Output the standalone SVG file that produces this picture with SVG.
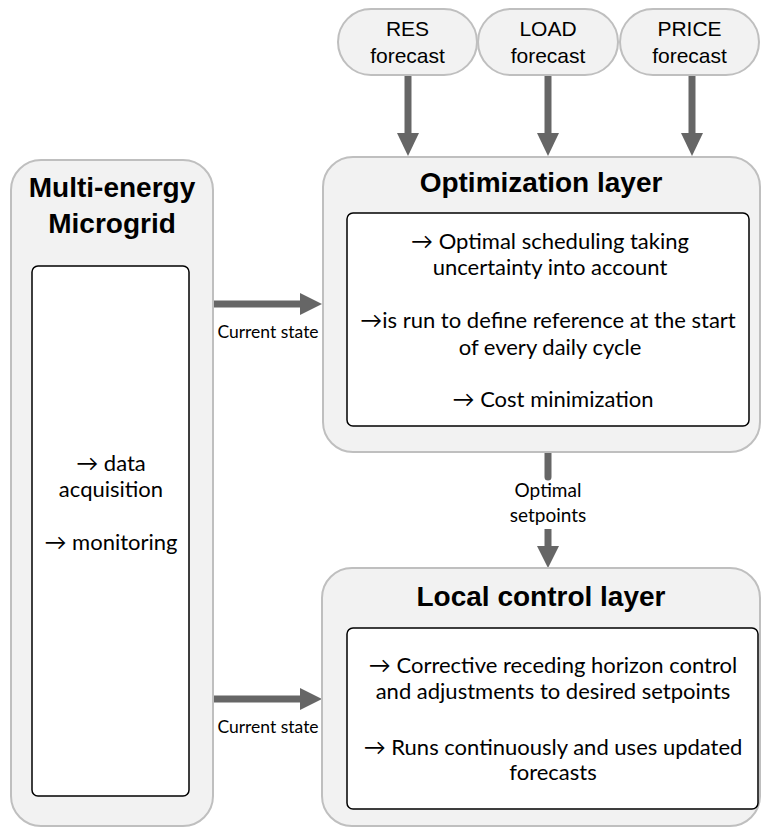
<svg xmlns="http://www.w3.org/2000/svg" width="761" height="828" viewBox="0 0 761 828">
<defs>
<style>
.outer{fill:#f2f2f2;stroke:#bfbfbf;stroke-width:2}
.inner{fill:#fff;stroke:#000;stroke-width:1.5}
.pill{fill:#f2f2f2;stroke:#bfbfbf;stroke-width:2}
.ptxt{font-family:"Liberation Sans",Arial,sans-serif;font-size:21px;fill:#000;text-anchor:middle}
.title{font-family:"Liberation Sans",Arial,sans-serif;font-weight:bold;font-size:28px;fill:#000;text-anchor:middle}
.body{font-family:Lato,"Open Sans",sans-serif;font-size:22px;fill:#000;text-anchor:middle}
.lbl{font-family:Lato,"Open Sans",sans-serif;font-size:17.5px;fill:#000;text-anchor:middle}
.lbl2{font-family:Lato,"Open Sans",sans-serif;font-size:19px;fill:#000;text-anchor:middle}
.shaft{stroke:#666;stroke-width:7;fill:none}
.head{fill:#666}
</style>
</defs>
<g id="connectors">
<line class="shaft" x1="408" y1="76" x2="408" y2="134"/>
<polygon class="head" points="397,133 419,133 408,156"/>
<line class="shaft" x1="548" y1="76" x2="548" y2="134"/>
<polygon class="head" points="537,133 559,133 548,156"/>
<line class="shaft" x1="692" y1="76" x2="692" y2="134"/>
<polygon class="head" points="681,133 703,133 692,156"/>
<line class="shaft" x1="214" y1="304" x2="302" y2="304" stroke-linecap="round"/>
<polygon class="head" points="300,293 300,315 322,304"/>
<text class="lbl" x="268" y="338">Current state</text>
<line class="shaft" x1="214" y1="699" x2="302" y2="699" stroke-linecap="round"/>
<polygon class="head" points="300,688 300,710 322,699"/>
<text class="lbl" x="268" y="733">Current state</text>
<line class="shaft" x1="548" y1="450" x2="548" y2="477" stroke-linecap="round"/>
<text class="lbl2" x="548" y="497">Optimal</text>
<text class="lbl2" x="548" y="522">setpoints</text>
<line class="shaft" x1="548" y1="529" x2="548" y2="548"/>
<polygon class="head" points="537,546 559,546 548,568"/>
</g>
<g id="res-forecast">
<rect class="pill" x="338" y="9" width="139" height="66" rx="33"/>
<text class="ptxt" x="407.5" y="36">RES</text>
<text class="ptxt" x="407.5" y="63">forecast</text>
</g>
<g id="load-forecast">
<rect class="pill" x="478" y="9" width="140" height="66" rx="33"/>
<text class="ptxt" x="548" y="36">LOAD</text>
<text class="ptxt" x="548" y="63">forecast</text>
</g>
<g id="price-forecast">
<rect class="pill" x="620" y="9" width="139" height="66" rx="33"/>
<text class="ptxt" x="689.5" y="36">PRICE</text>
<text class="ptxt" x="689.5" y="63">forecast</text>
</g>
<g id="microgrid">
<rect class="outer" x="11" y="160" width="202" height="666" rx="30"/>
<text class="title" x="112" y="197">Multi-energy</text>
<text class="title" x="112" y="233">Microgrid</text>
<rect class="inner" x="32" y="266" width="157" height="530" rx="6"/>
<text class="body" x="111" y="471">→ data</text>
<text class="body" x="111" y="497">acquisition</text>
<text class="body" x="111" y="550">→ monitoring</text>
</g>
<g id="optimization">
<rect class="outer" x="323" y="157" width="437" height="295" rx="30"/>
<text class="title" x="541" y="192">Optimization layer</text>
<rect class="inner" x="347" y="213" width="402" height="213" rx="6"/>
<text class="body" x="550" y="249">→ Optimal scheduling taking</text>
<text class="body" x="550" y="275">uncertainty into account</text>
<text class="body" x="548" y="328">→is run to define reference at the start</text>
<text class="body" x="550" y="355">of every daily cycle</text>
<text class="body" x="553" y="407">→ Cost minimization</text>
</g>
<g id="local-control">
<rect class="outer" x="322" y="568" width="438" height="258" rx="30"/>
<text class="title" x="541" y="606">Local control layer</text>
<rect class="inner" x="347" y="628" width="411" height="181" rx="6"/>
<text class="body" x="553" y="673">→ Corrective receding horizon control</text>
<text class="body" x="553" y="699">and adjustments to desired setpoints</text>
<text class="body" x="553" y="755">→ Runs continuously and uses updated</text>
<text class="body" x="553" y="780">forecasts</text>
</g>
</svg>
